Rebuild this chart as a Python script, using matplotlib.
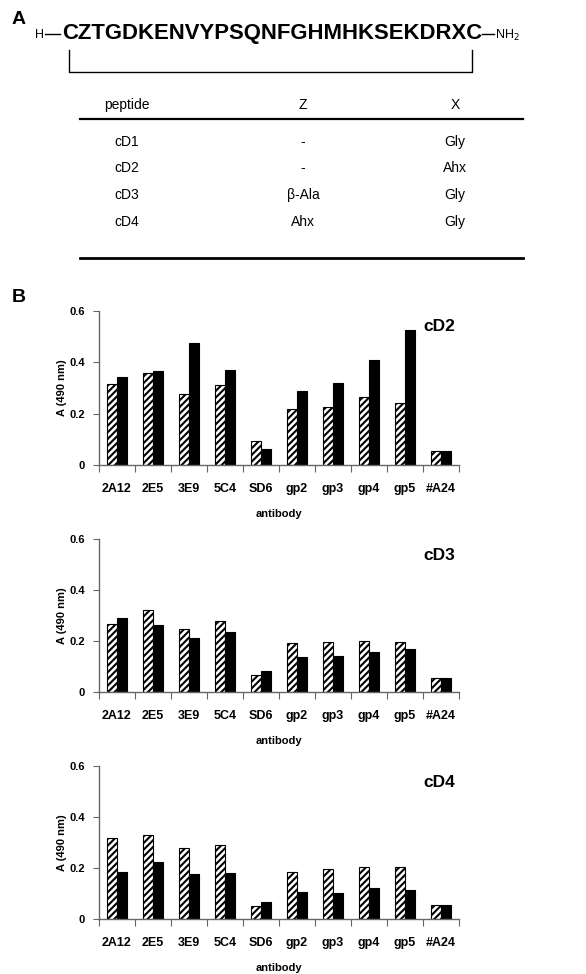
import matplotlib
matplotlib.use("Agg")
import matplotlib.pyplot as plt
import numpy as np

plt.rcParams['font.family'] = ['Liberation Sans', 'DejaVu Sans']
plt.rcParams['hatch.linewidth'] = 1.5

antibodies = ["2A12", "2E5", "3E9", "5C4", "SD6", "gp2", "gp3", "gp4", "gp5", "#A24"]

cD2_hatched = [0.316, 0.356, 0.276, 0.312, 0.094, 0.218, 0.224, 0.264, 0.241, 0.053]
cD2_black   = [0.343, 0.367, 0.473, 0.371, 0.063, 0.287, 0.317, 0.407, 0.526, 0.053]
cD3_hatched = [0.265, 0.320, 0.247, 0.279, 0.066, 0.192, 0.195, 0.201, 0.195, 0.053]
cD3_black   = [0.290, 0.262, 0.212, 0.237, 0.082, 0.137, 0.141, 0.155, 0.170, 0.056]
cD4_hatched = [0.317, 0.328, 0.278, 0.290, 0.053, 0.185, 0.197, 0.204, 0.204, 0.057]
cD4_black   = [0.187, 0.223, 0.179, 0.181, 0.068, 0.107, 0.103, 0.123, 0.113, 0.057]

panels = [("cD2", cD2_hatched, cD2_black),
          ("cD3", cD3_hatched, cD3_black),
          ("cD4", cD4_hatched, cD4_black)]

table_header = ["peptide", "Z", "X"]
table_rows = [["cD1", "-", "Gly"],
              ["cD2", "-", "Ahx"],
              ["cD3", "β-Ala", "Gly"],
              ["cD4", "Ahx", "Gly"]]

sequence = "CZTGDKENVYPSQNFGHMHKSEKDRXC"

W, H = 586, 974
fig = plt.figure(figsize=(W / 100, H / 100), dpi=100)

# overlay axes in pixel coordinates for panel A
ov = fig.add_axes([0, 0, 1, 1])
ov.set_xlim(0, W)
ov.set_ylim(H, 0)
ov.axis("off")

ov.text(12, 20, "A", fontsize=14, fontweight="bold", ha="left", va="center")
ov.text(12, 298, "B", fontsize=14, fontweight="bold", ha="left", va="center")
ov.text(35, 35, "H", fontsize=9, ha="left", va="center")
ov.plot([45, 60], [34, 34], color="black", lw=1)
ov.text(62, 34, sequence, fontsize=15.9, fontweight="bold", ha="left", va="center")
ov.plot([482, 494], [34, 34], color="black", lw=1)
ov.text(495, 35, "NH$_2$", fontsize=9, ha="left", va="center")
ov.plot([69, 69, 472, 472], [50, 72, 72, 50], color="black", lw=1)

# table
col_x = [127, 303, 455]
ov.plot([80, 523], [119, 119], color="black", lw=1.6)
ov.plot([80, 523], [258, 258], color="black", lw=2.0)
for cx, h in zip(col_x, table_header):
    ov.text(cx, 105, h, fontsize=10, ha="center", va="center")
row_y = [142, 168, 195, 222]
for ry, row in zip(row_y, table_rows):
    for cx, cell in zip(col_x, row):
        ov.text(cx, ry, cell, fontsize=10, ha="center", va="center")

# bar panels: (top px of 0.6, bottom px of 0)
axes_px = [(310.7, 465.0), (539.0, 692.0), (766.0, 919.3)]
left_px, right_px = 99, 459
x = np.arange(len(antibodies))
bw = 0.29
axcol = "#666666"
for (name, hv, bv), (top, bot) in zip(panels, axes_px):
    ax = fig.add_axes([left_px / W, 1 - bot / H, (right_px - left_px) / W, (bot - top) / H])
    ax.bar(x - bw / 2, hv, width=bw, color="white", edgecolor="black",
           hatch="/////", linewidth=0.8)
    ax.bar(x + bw / 2, bv, width=bw, color="black", edgecolor="black", linewidth=0.8)
    ax.set_xlim(-0.5, len(antibodies) - 0.5)
    ax.set_ylim(0, 0.6)
    ax.set_yticks([0, 0.2, 0.4, 0.6])
    ax.set_yticklabels(["0", "0.2", "0.4", "0.6"], fontsize=8, fontweight="bold")
    ax.set_xticks(np.arange(len(antibodies) + 1) - 0.5)
    ax.set_xticklabels([])
    ax.set_xticks(x, minor=True)
    ax.set_xticklabels(antibodies, minor=True, fontsize=9, fontweight="bold")
    ax.tick_params(axis="x", which="minor", length=0, pad=13)
    ax.tick_params(axis="x", which="major", length=5, direction="out", color=axcol)
    ax.tick_params(axis="y", length=4, direction="out", color=axcol, pad=6)
    for s in ["top", "right"]:
        ax.spines[s].set_visible(False)
    for s in ["left", "bottom"]:
        ax.spines[s].set_color(axcol)
        ax.spines[s].set_linewidth(1.0)
    ax.set_ylabel("A (490 nm)", fontsize=8, fontweight="bold", labelpad=2)
    ax.set_xlabel("antibody", fontsize=8, fontweight="bold", labelpad=10)
    ax.text(0.99, 0.895, name, transform=ax.transAxes, fontsize=12.5,
            fontweight="bold", ha="right", va="center")

fig.savefig("out.png", dpi=100)
